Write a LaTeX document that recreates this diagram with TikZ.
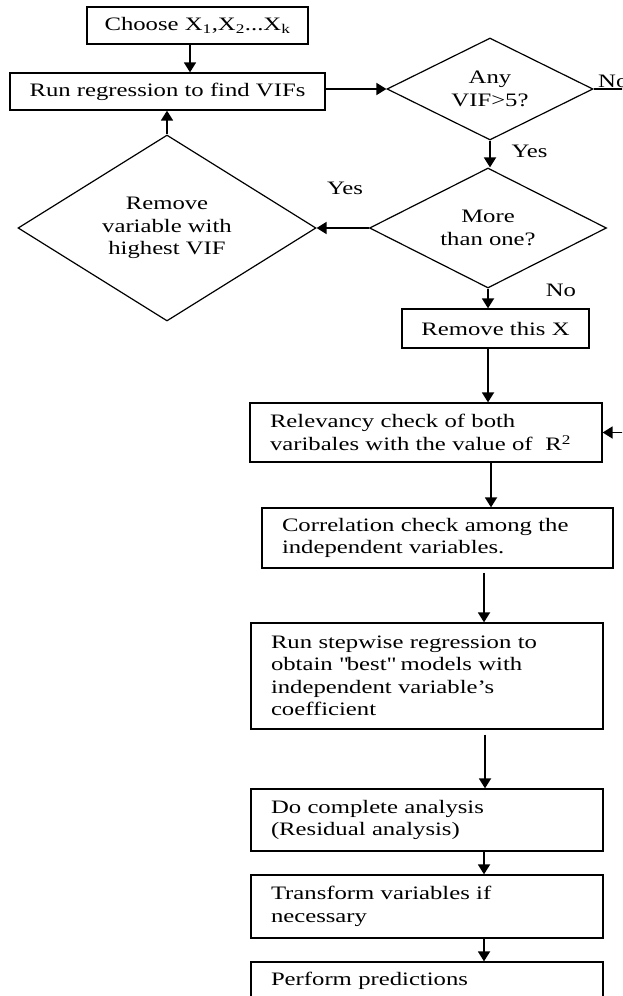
\documentclass[tikz,border=0pt]{standalone}
\usepackage{fontspec}
\setmainfont{Liberation Serif}[FakeStretch=1.3]
\usepackage{tikz}
\usetikzlibrary{shapes,arrows.meta,positioning,calc}

\begin{document}
\begin{tikzpicture}[x=1pt,y=-1pt,
	font=\fontsize{19}{22.5}\selectfont,
	box/.style={draw,line width=1.3pt,rectangle,inner sep=0pt},
	leftbox/.style={box,inner xsep=20pt,align=left,text width=#1},
	dec/.style={draw,line width=1.2pt,diamond,aspect=2,inner sep=0pt,align=center},
	arr/.style={line width=1.8pt,-{Triangle[length=10pt,width=12pt]}}]
	
		\useasboundingbox (0,0) rectangle (622,996);
		\clip (0,0) rectangle (622,996);
		
		\node[box,minimum width=221pt,minimum height=37pt] (choose) at (197.5,25.5) {Choose X\textsubscript{1},X\textsubscript{2}...X\textsubscript{k}};
		\node[box,minimum width=315pt,minimum height=37pt] (run) at (167.5,91.5) {Run regression to find VIFs};
		\node[dec,minimum width=206pt,minimum height=102pt] (any) at (490,89) {Any\\VIF>5?};
		\node[dec,minimum width=237pt,minimum height=120pt] (more) at (488,228) {More\\than one?};
		\node[dec,minimum width=298pt,minimum height=186pt] (remove) at (167,228) {Remove\\variable with\\highest VIF};
		\node[box,minimum width=187pt,minimum height=39pt] (removex) at (495.5,328.5) {Remove this X};
		
		\node[leftbox=312pt,minimum height=59pt] (relevancy) at (426,432.5) {Relevancy check of both\\varibales with the value of \ R\textsuperscript{2}};
		\node[leftbox=311pt,minimum height=60pt] (correlation) at (437.5,538) {Correlation check among the\\independent variables.};
		\node[leftbox=312pt,minimum height=106pt] (stepwise) at (427,676) {Run stepwise regression to\\obtain \textquotedbl best\textquotedbl{} models with\\independent variable's\\coefficient};
		\node[leftbox=312pt,minimum height=62pt] (complete) at (427,820) {Do complete analysis\\(Residual analysis)};
		\node[leftbox=312pt,minimum height=63pt] (transform) at (427,906.5) {Transform variables if\\necessary};
		\node[leftbox=312pt,minimum height=38pt] (perform) at (427,981) {Perform predictions};
		
		\node[anchor=base west,inner sep=0pt] (no1) at (598,87) {No};
		\node[anchor=west] (yes1) at (508,151) {Yes};
		\node (yes2) at (345,188) {Yes};
		\node (no2) at (561,290) {No};
		
		\coordinate (noend) at (630,89);
		\coordinate (fromright) at (630,432.5);
		
		\draw[arr] ([xshift=-7.5pt]choose.south) -- ([xshift=-7.5pt]choose.south |- run.north);
		\draw[arr] (run.east |- any.west) -- (any.west);
		\draw[line width=1.3pt] (any.east) -- (noend);
		\draw[arr] (any.south) -- (any.south |- more.north);
		\draw[arr] (more.west) -- (remove.east);
		\draw[arr] (remove.north) -- (remove.north |- run.south);
		\draw[arr] (more.south) -- (more.south |- removex.north);
		\draw[arr] (more.south |- removex.south) -- (more.south |- relevancy.north);
		\draw[arr] (fromright) -- (relevancy.east);
		\draw[arr] ([xshift=65pt]relevancy.south) -- ([xshift=65pt]relevancy.south |- correlation.north);
		\draw[arr] ([xshift=46.5pt,yshift=-4pt]correlation.south) -- ([xshift=46.5pt]correlation.south |- stepwise.north);
		\draw[arr] ([xshift=58pt,yshift=-5pt]stepwise.south) -- ([xshift=58pt]stepwise.south |- complete.north);
		\draw[arr] ([xshift=57pt]complete.south) -- ([xshift=57pt]complete.south |- transform.north);
		\draw[arr] ([xshift=57pt]transform.south) -- ([xshift=57pt]transform.south |- perform.north);
		
\end{tikzpicture}
\end{document}
